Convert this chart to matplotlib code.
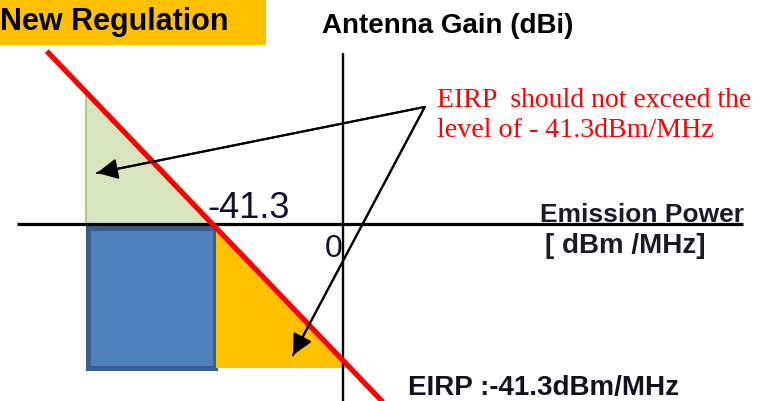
import matplotlib
matplotlib.use("Agg")
import matplotlib.pyplot as plt
from matplotlib.patches import Polygon, Rectangle, FancyArrowPatch

# ---- data (dB units: x = emission power dBm/MHz, y = antenna gain dBi) ----
eirp_limit = -41.3
limit_power = [-93.7, 12.7]                      # extent of the EIRP limit line
limit_gain = [eirp_limit - p for p in limit_power]
green_power = [-81.3, -41.3, -81.3]
green_gain = [0.0, 0.0, 40.0]
blue_power = [-80.5, -40.6]
blue_gain = [-1.1, -43.7]
orange_power = [-40.0, -40.0, 2.2]
orange_gain = [-1.3, -43.5, -43.5]
haxis_power = [-103.2, 126.6]
vaxis_gain = [51.8, -60.0]
arrow_junction = (25.9, 35.5)
arrow_tips = [(-77.8, 15.5), (-15.8, -39.7)]

W, H = 762, 402
fig = plt.figure(figsize=(W / 100, H / 100), dpi=100)
ax = fig.add_axes([0, 0, 1, 1])
ax.set_xlim(-108.5, 132.6)
ax.set_ylim(-53.6, 68.2)
ax.axis("off")

def px(x, y):
    return x / W, 1 - y / H

sans = ["Liberation Sans", "DejaVu Sans"]
serif = ["Liberation Serif", "DejaVu Serif"]

# patches
ax.add_patch(Polygon(list(zip(green_power, green_gain)), closed=True,
                     facecolor="#D7E4BD", edgecolor="#9BBB59", lw=1.0, zorder=1))
ax.add_patch(Rectangle((blue_power[0], blue_gain[1]), blue_power[1] - blue_power[0],
                       blue_gain[0] - blue_gain[1], facecolor="#4F81BD",
                       edgecolor="#3A5F8E", lw=3.6, zorder=1))
ax.add_patch(Polygon(list(zip(orange_power, orange_gain)), closed=True,
                     facecolor="#FFC000", edgecolor="none", zorder=1))

# axes lines
ax.plot(haxis_power, [0, 0], color="black", lw=2.3, zorder=2, solid_capstyle="butt")
ax.plot([0, 0], vaxis_gain, color="black", lw=1.7, zorder=2, solid_capstyle="butt")

# EIRP limit line
ax.plot(limit_power, limit_gain, color="#FF0000", lw=3.8, zorder=3, solid_capstyle="butt")

# arrows
for tip in arrow_tips:
    ax.plot([arrow_junction[0], tip[0]], [arrow_junction[1], tip[1]],
            color="black", lw=1.5, zorder=4, solid_capstyle="round")
    ax.add_patch(FancyArrowPatch(arrow_junction, tip,
                                 arrowstyle="-|>,head_length=0.9,head_width=0.45",
                                 mutation_scale=14, color="black", lw=1.5,
                                 shrinkA=0, shrinkB=0, zorder=4))

# title box
fig.patches.append(Rectangle((0, 1 - 45.5 / H), 265.5 / W, 45.5 / H,
                             transform=fig.transFigure, facecolor="#FFC000",
                             edgecolor="none", zorder=0))
fig.text(*px(0, 30), "New Regulation", fontsize=22, fontweight="bold",
         family=sans, va="baseline", ha="left", color="black")
fig.text(*px(322, 33), "Antenna Gain (dBi)", fontsize=20, fontweight="bold",
         family=sans, va="baseline", ha="left", color="black")

# red note
fig.text(*px(437, 107), "EIRP  should not exceed the", fontsize=20,
         family=serif, va="baseline", ha="left", color="#FF0000")
fig.text(*px(437, 137), "level of - 41.3dBm/MHz", fontsize=20.2,
         family=serif, va="baseline", ha="left", color="#FF0000")

# labels
fig.text(*px(207, 218), "-41.3", fontsize=26, family=sans, va="baseline",
         ha="left", color="#101030")
fig.text(*px(343, 257), "0", fontsize=23, family=sans, va="baseline",
         ha="right", color="#101030")
fig.text(*px(540, 222), "Emission Power", fontsize=19, fontweight="bold",
         family=sans, va="baseline", ha="left", color="#1a1a2a")
fig.text(*px(545, 253), "[ dBm /MHz]", fontsize=20, fontweight="bold",
         family=sans, va="baseline", ha="left", color="#1a1a2a")
fig.text(*px(408, 395), "EIRP :-41.3dBm/MHz", fontsize=20, fontweight="bold",
         family=sans, va="baseline", ha="left", color="#111122")

fig.savefig("out.png", dpi=100)
